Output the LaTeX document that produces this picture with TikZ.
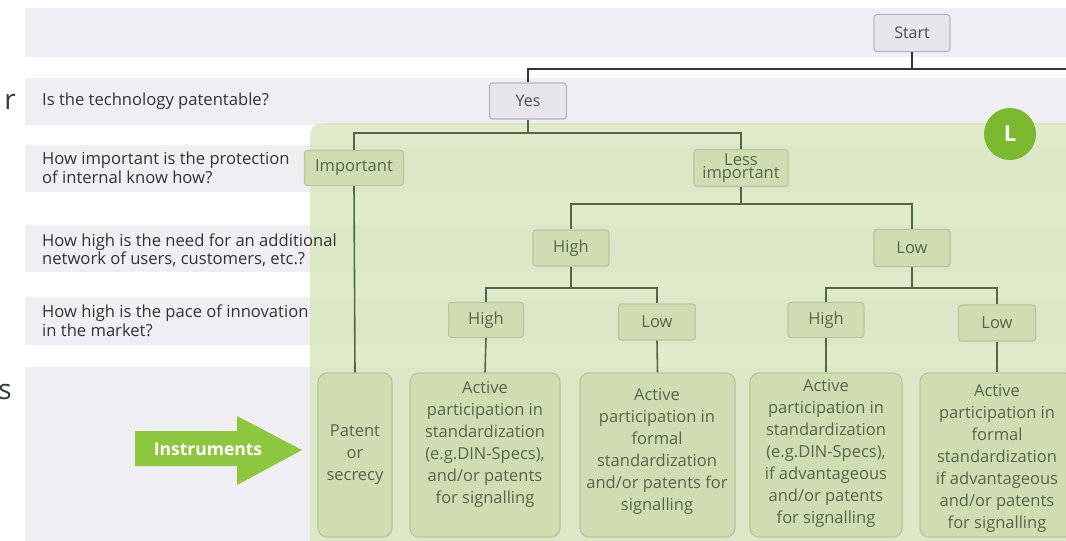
\documentclass[tikz,border=0pt]{standalone}
\usepackage{fontspec}
\setmainfont{Open Sans}
\definecolor{band}{HTML}{EFEFF3}
\definecolor{greenbg}{HTML}{D8E6BE}
\definecolor{gnodefill}{HTML}{D0DDB3}
\definecolor{gborder}{HTML}{B7C79C}
\definecolor{gline}{HTML}{55654A}
\definecolor{gtext}{HTML}{56664A}
\definecolor{graynodefill}{HTML}{E6E6EA}
\definecolor{grayborder}{HTML}{B5B5BD}
\definecolor{qtext}{HTML}{333333}
\definecolor{arrowgreen}{HTML}{8DC63F}
\definecolor{Lgreen}{HTML}{7BB82E}
\definecolor{titlec}{HTML}{2E3D45}
\tikzset{
  bandbox/.style={fill=band, draw=none},
  graybox/.style={draw=grayborder, fill=graynodefill, line width=1.2pt, rounded corners=3pt,
    text=black!70, font=\fontsize{16}{18}\selectfont, inner sep=0pt},
  greenbox/.style={draw=gborder, fill=gnodefill, line width=1.2pt, rounded corners=3pt,
    text=gtext, font=\fontsize{16.5}{18}\selectfont, inner sep=0pt},
  leafbox/.style={draw=gborder, fill=gnodefill, line width=1.2pt, rounded corners=9pt,
    minimum height=164pt, inner sep=0pt},
  leaftext/.style={text=gtext, align=center, font=\fontsize{16.5}{22}\selectfont, inner sep=0pt},
  question/.style={text=qtext, anchor=west, align=left, font=\fontsize{16.6}{18.5}\selectfont, inner sep=0pt},
  blackline/.style={draw=black!80, line width=1.6pt},
  greenline/.style={draw=gline, line width=1.6pt},
}
\begin{document}
\begin{tikzpicture}[x=1pt,y=-1pt]
\useasboundingbox (0,0) rectangle (1066,541);
\clip (0,0) rectangle (1066,541);
\fill[white] (0,0) rectangle (1066,541);
% bands
\fill[bandbox] (25,8) rectangle (1066,57);
\fill[bandbox] (25,78) rectangle (1066,125);
\fill[bandbox] (25,145) rectangle (1066,192);
\fill[bandbox] (25,225) rectangle (1066,272);
\fill[bandbox] (25,297) rectangle (1066,345);
\fill[bandbox] (25,367) rectangle (1066,541);
% green region
\fill[greenbg, opacity=0.8] (310,560) -- (310,150) .. controls (310,123) .. (337,123) -- (1080,123) -- (1080,560) -- cycle;
% cut-off title letters
\node[text=titlec, font=\fontsize{28}{28}\selectfont, inner sep=0pt] (tr) at (10,102) {r};
\node[text=titlec, font=\fontsize{28}{28}\selectfont, inner sep=0pt] (ts) at (5,392) {s};
% questions
\node[question] (q1) at (42,101) {Is the technology patentable?};
\node[question] (q2) at (42,168) {How important is the protection\\of internal know how?};
\node[question] (q3) at (42,250) {How high is the need for an additional\\network of users, customers, etc.?};
\node[question] (q4) at (42,321) {How high is the pace of innovation\\in the market?};
% L badge
\node[circle, fill=Lgreen, minimum size=52pt, inner sep=0pt, text=white, font=\bfseries\fontsize{22}{22}\selectfont] (badge) at (1010,134) {L};
% instruments arrow
\fill[arrowgreen] (135,431) -- (237,431) -- (237,416) -- (302,450) -- (237,485) -- (237,466) -- (135,466) -- cycle;
\node[text=white, font=\bfseries\fontsize{17.5}{17.5}\selectfont, inner sep=0pt] (instr) at (208,449) {Instruments};
% tree nodes
\node[graybox, minimum width=76pt, minimum height=37pt] (start) at (912,33) {Start};
\node[graybox, minimum width=77pt, minimum height=36pt] (yes) at (528,101) {Yes};
\node[greenbox, minimum width=99pt, minimum height=35pt] (imp) at (354,168) {Important};
\node[greenbox, minimum width=94pt, minimum height=37pt, align=center, font=\fontsize{16.5}{12}\selectfont] (less) at (741,168) {Less\\important};
\node[greenbox, minimum width=76pt, minimum height=36pt] (h4) at (571,248) {High};
\node[greenbox, minimum width=76pt, minimum height=37pt] (l4) at (912,248) {Low};
\node[greenbox, minimum width=75pt, minimum height=35pt] (h5a) at (486,320) {High};
\node[greenbox, minimum width=77pt, minimum height=36pt] (l5a) at (657,322) {Low};
\node[greenbox, minimum width=76pt, minimum height=35pt] (h5b) at (826,320) {High};
\node[greenbox, minimum width=77pt, minimum height=36pt] (l5b) at (997,323) {Low};
% leaves
\node[leafbox, minimum width=74pt] (leaf1) at (355,455) {};
\node[leafbox, minimum width=150pt] (leaf2) at (485,455) {};
\node[leafbox, minimum width=155pt] (leaf3) at (657.5,455) {};
\node[leafbox, minimum width=152pt] (leaf4) at (826,455) {};
\node[leafbox, minimum width=154pt] (leaf5) at (997,455) {};
\node[leaftext] (t1) at (355,455) {Patent\\or\\secrecy};
\node[leaftext] (t2) at (485,444) {Active\\participation in\\standardization\\(e.g.DIN-Specs),\\and/or patents\\for signalling};
\node[leaftext] (t3) at (657,451) {Active\\participation in\\formal\\standardization\\and/or patents for\\signalling};
\node[leaftext] (t4) at (826,453) {Active\\participation in\\standardization\\(e.g.DIN-Specs),\\if advantageous\\and/or patents\\for signalling};
\node[leaftext] (t5) at (997,458) {Active\\participation in\\formal\\standardization\\if advantageous\\and/or patents\\for signalling};
% connectors
\coordinate (noend) at (1075,69);
\coordinate (j1) at (0,133);
\coordinate (j2) at (0,204);
\coordinate (j3) at (0,288);
\draw[blackline] (start.south) -- (start.south |- noend);
\draw[blackline] (yes.north) |- (noend);
\draw[greenline] (imp.north) |- (less.north |- j1) -- (less.north);
\draw[greenline] (yes.south) -- (yes.south |- j1);
\draw[greenline] (imp.south) -- (leaf1.north);
\draw[greenline] (less.south) -- (less.south |- j2);
\draw[greenline] (h4.north) |- (l4.north |- j2) -- (l4.north);
\draw[greenline] (h4.south) -- (h4.south |- j3);
\draw[greenline] (h5a.north) |- (l5a.north |- j3) -- (l5a.north);
\draw[greenline] (l4.south) -- (l4.south |- j3);
\draw[greenline] (h5b.north) |- (l5b.north |- j3) -- (l5b.north);
\draw[greenline] (h5a.south) -- (leaf2.north);
\draw[greenline] (l5a.south) -- (leaf3.north);
\draw[greenline] (h5b.south) -- (leaf4.north);
\draw[greenline] (l5b.south) -- (leaf5.north);
\end{tikzpicture}
\end{document}
